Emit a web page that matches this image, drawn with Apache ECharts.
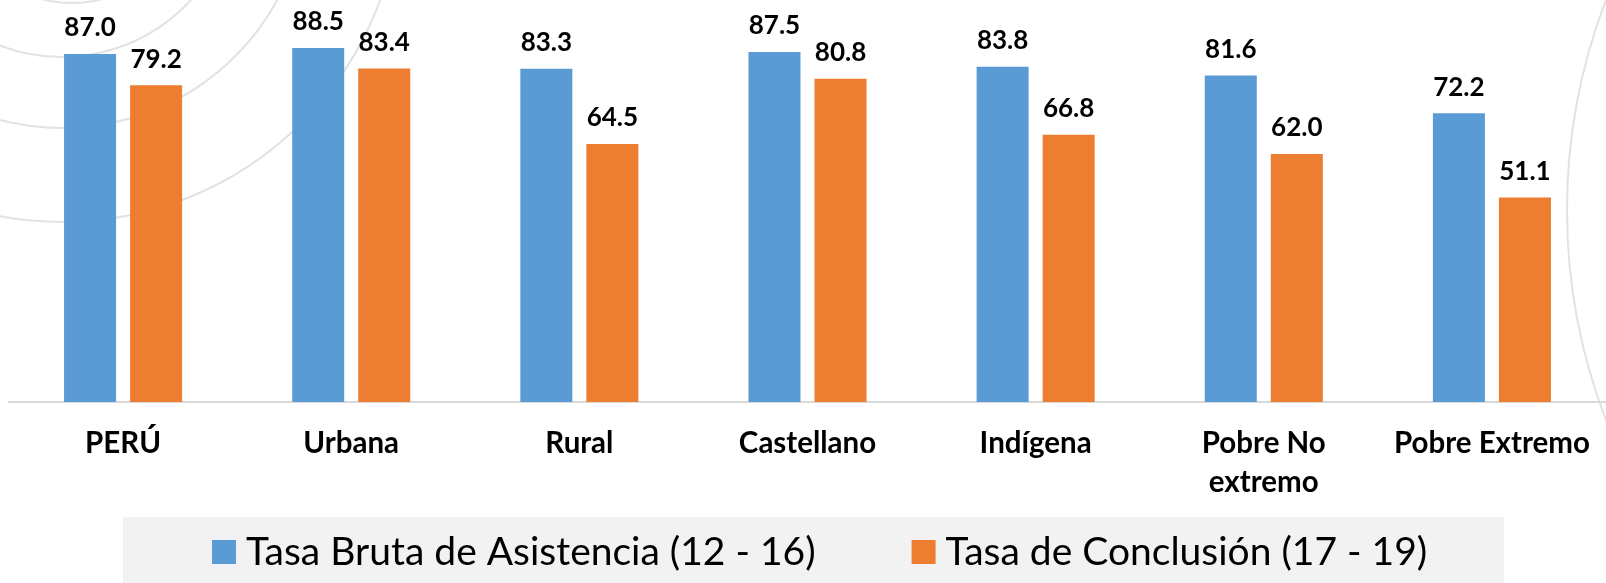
<!DOCTYPE html>
<html>
<head>
<meta charset="utf-8">
<style>
  html, body { margin: 0; padding: 0; background: #ffffff; }
  #chart { width: 1606px; height: 583px; }
</style>
<script src="https://cdn.jsdelivr.net/npm/echarts@6/dist/echarts.min.js"></script>
</head>
<body>
<div id="chart"></div>
<script>
const categories = ['PERÚ', 'Urbana', 'Rural', 'Castellano', 'Indígena', 'Pobre No extremo', 'Pobre Extremo'];
const seriesNames = ['Tasa Bruta de Asistencia (12 - 16)', 'Tasa de Conclusión (17 - 19)'];
const asistencia = [87.0, 88.5, 83.3, 87.5, 83.8, 81.6, 72.2];
const conclusion = [79.2, 83.4, 64.5, 80.8, 66.8, 62.0, 51.1];

const chart = echarts.init(document.getElementById('chart'), null, { renderer: 'canvas' });
const FONT = 'Lato';
const arcStyle = { fill: 'none', stroke: '#e2e2e2', lineWidth: 2 };

const labelCfg = {
  show: true,
  position: 'top',
  distance: 13,
  fontFamily: FONT,
  fontWeight: 'bold',
  fontSize: 26,
  color: '#000000',
  formatter: p => p.value.toFixed(1)
};

chart.setOption({
  animation: false,
  backgroundColor: '#ffffff',
  graphic: [
    { type: 'circle', z: -10, silent: true, shape: { cx: 72, cy: -117, r: 120 }, style: arcStyle },
    { type: 'circle', z: -10, silent: true, shape: { cx: 62, cy: -117, r: 174 }, style: arcStyle },
    { type: 'circle', z: -10, silent: true, shape: { cx: 62, cy: -117, r: 245 }, style: arcStyle },
    { type: 'circle', z: -10, silent: true, shape: { cx: 62, cy: -117, r: 339 }, style: arcStyle },
    { type: 'circle', z: -10, silent: true, shape: { cx: 2152, cy: 210, r: 585 }, style: arcStyle }
  ],
  grid: { left: 9, top: 2, width: 1611, height: 400, containLabel: false },
  legend: {
    data: seriesNames,
    left: 123,
    top: 517,
    padding: [15, 77, 11, 89],
    backgroundColor: '#f2f2f2',
    itemWidth: 24,
    itemHeight: 24,
    itemGap: 96,
    icon: 'rect',
    textStyle: { fontFamily: FONT, fontSize: 39, lineHeight: 40, color: '#000000', padding: [0, 0, 0, 5] }
  },
  xAxis: {
    type: 'category',
    data: categories,
    axisLine: { show: true, lineStyle: { color: '#d9d9d9', width: 2 } },
    axisTick: { show: false },
    axisLabel: {
      interval: 0,
      margin: 22,
      fontFamily: FONT,
      fontWeight: 'bold',
      fontSize: 29.5,
      lineHeight: 39,
      color: '#000000',
      formatter: v => v === 'Pobre No extremo' ? 'Pobre No\nextremo' : v
    }
  },
  yAxis: {
    type: 'value',
    min: 0,
    max: 100,
    interval: 20,
    show: false,
    splitLine: { show: false }
  },
  series: [
    {
      name: seriesNames[0],
      type: 'bar',
      data: asistencia,
      barWidth: 52,
      barGap: '27%',
      itemStyle: { color: '#5B9BD5' },
      label: labelCfg
    },
    {
      name: seriesNames[1],
      type: 'bar',
      data: conclusion,
      barWidth: 52,
      barGap: '27%',
      itemStyle: { color: '#ED7D31' },
      label: labelCfg
    }
  ]
});
</script>
</body>
</html>
